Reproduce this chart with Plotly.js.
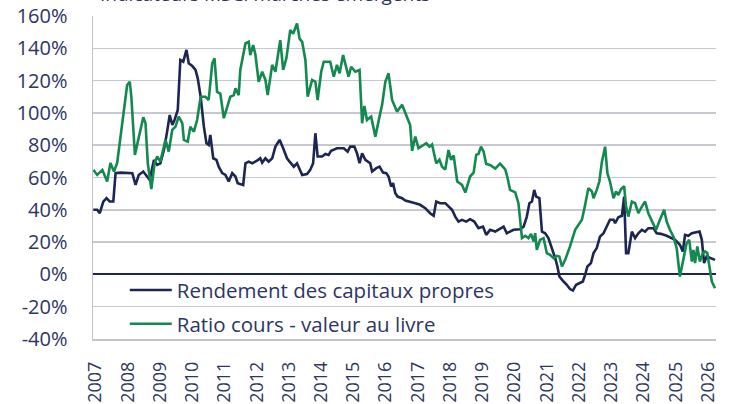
<!DOCTYPE html>
<html>
<head>
<meta charset="utf-8">
<script src="https://cdn.plot.ly/plotly-3.0.1.min.js"></script>
<style>html,body{margin:0;padding:0;background:#fff;}#chart{width:730px;height:404px;}</style>
</head>
<body>
<div id="chart"></div>
<script>
// Decimal-year positions and values (%)
const roeDates = [2006.93,2007.05,2007.13,2007.24,2007.34,2007.44,2007.55,2007.62,2007.77,2007.98,2008.14,2008.24,2008.34,2008.48,2008.60,2008.68,2008.81,2008.91,2009.01,2009.12,2009.22,2009.30,2009.38,2009.45,2009.55,2009.63,2009.72,2009.82,2009.89,2010.00,2010.10,2010.17,2010.26,2010.36,2010.44,2010.51,2010.56,2010.65,2010.75,2010.82,2010.93,2011.03,2011.13,2011.24,2011.34,2011.41,2011.58,2011.65,2011.75,2011.86,2012.01,2012.11,2012.17,2012.27,2012.37,2012.48,2012.58,2012.71,2012.82,2012.94,2013.02,2013.15,2013.25,2013.41,2013.56,2013.66,2013.75,2013.82,2013.89,2014.03,2014.13,2014.23,2014.31,2014.49,2014.70,2014.82,2014.90,2015.03,2015.11,2015.19,2015.27,2015.37,2015.52,2015.58,2015.71,2015.81,2015.92,2016.02,2016.09,2016.17,2016.23,2016.30,2016.37,2016.51,2016.61,2016.76,2016.92,2017.07,2017.23,2017.38,2017.49,2017.57,2017.69,2017.85,2017.95,2018.06,2018.16,2018.26,2018.37,2018.50,2018.62,2018.75,2018.88,2019.02,2019.12,2019.24,2019.40,2019.55,2019.66,2019.76,2019.86,2019.97,2020.17,2020.28,2020.38,2020.46,2020.54,2020.61,2020.67,2020.77,2020.85,2020.95,2021.05,2021.16,2021.26,2021.33,2021.39,2021.52,2021.62,2021.72,2021.81,2021.91,2022.01,2022.12,2022.19,2022.26,2022.37,2022.45,2022.55,2022.65,2022.76,2022.86,2022.96,2023.07,2023.12,2023.22,2023.33,2023.40,2023.46,2023.53,2023.64,2023.74,2023.84,2023.95,2024.05,2024.15,2024.31,2024.41,2024.54,2024.72,2024.88,2024.98,2025.13,2025.22,2025.29,2025.39,2025.50,2025.65,2025.74,2025.81,2025.88,2025.96,2026.06,2026.22];
const roeValues = [40,40,37.9,45.1,47.2,45.1,45.1,62.7,63,63,62.7,55.4,61.6,63.7,60.6,58.5,70.9,67.8,68.8,77.1,88.4,98.7,92.5,95.6,101.8,132.8,131.7,139,130.7,129,126.6,121.4,110,91.5,81.2,80.2,86.4,71.9,70.9,66.7,62.7,61.6,57.5,62.7,60.6,56.5,55.4,68.8,69.8,68.8,70.5,71.9,69.2,71.9,69.8,71.9,79.1,83.3,78.1,71.9,69.8,66.7,68.8,61.6,62.2,64.7,68.8,87.4,73,73,74.6,74,76.6,78.1,78.1,76,79.1,79.1,75,68.8,75,70.9,68.8,63.7,65.8,66.7,63,62.7,60.6,54.4,56.5,50.3,48.2,47.2,45.7,45.1,44.1,43.1,41,37.9,36.3,45.1,44.1,44.1,42,40,35.8,32.7,33.8,32.7,34.2,32.7,28.6,29.6,24.5,27.6,26.5,28,29.6,25.5,26.5,27.6,28,29.6,35.8,44.1,45.1,52.3,48.2,47.2,26.5,25.5,22.5,16.3,10.1,4.9,-1.3,-4.4,-6.4,-9.1,-10,-6.4,-5.4,-4.4,-0.2,4.9,7,13.2,16.3,23.4,25.5,29.6,33.8,33.8,31.7,35.4,36.3,48.2,13.2,13.2,26.5,22.5,25.5,27.6,26.5,28.6,28.6,25.5,25.1,23.9,22.5,21.4,18.3,14.2,24.5,23.9,25.5,25.9,26.5,21.4,7,11.1,10.1,9];

const pbDates = [2006.93,2007.05,2007.21,2007.36,2007.46,2007.57,2007.67,2007.83,2007.98,2008.06,2008.11,2008.22,2008.34,2008.48,2008.55,2008.62,2008.73,2008.83,2008.91,2009.01,2009.17,2009.27,2009.38,2009.48,2009.58,2009.69,2009.74,2009.86,2009.94,2010.05,2010.15,2010.26,2010.41,2010.51,2010.62,2010.69,2010.77,2010.87,2010.98,2011.08,2011.18,2011.29,2011.34,2011.44,2011.49,2011.65,2011.75,2011.80,2011.89,2011.96,2012.06,2012.17,2012.27,2012.34,2012.48,2012.58,2012.73,2012.82,2012.92,2013.04,2013.13,2013.25,2013.33,2013.41,2013.48,2013.51,2013.58,2013.72,2013.82,2013.89,2014.00,2014.08,2014.28,2014.39,2014.49,2014.57,2014.68,2014.85,2014.93,2015.06,2015.19,2015.27,2015.34,2015.42,2015.55,2015.68,2015.81,2015.89,2015.99,2016.09,2016.20,2016.35,2016.51,2016.66,2016.76,2016.82,2016.92,2017.02,2017.16,2017.26,2017.36,2017.44,2017.57,2017.67,2017.75,2017.85,2017.95,2018.03,2018.11,2018.22,2018.37,2018.47,2018.62,2018.73,2018.81,2018.88,2018.96,2019.04,2019.12,2019.24,2019.40,2019.55,2019.71,2019.78,2019.86,2020.02,2020.12,2020.17,2020.23,2020.33,2020.43,2020.51,2020.59,2020.64,2020.69,2020.79,2020.90,2021.00,2021.10,2021.21,2021.31,2021.39,2021.47,2021.57,2021.72,2021.88,2021.95,2022.09,2022.19,2022.29,2022.40,2022.45,2022.55,2022.63,2022.71,2022.81,2022.88,2022.96,2023.07,2023.15,2023.22,2023.30,2023.40,2023.46,2023.53,2023.64,2023.74,2023.84,2023.95,2024.05,2024.15,2024.26,2024.39,2024.51,2024.64,2024.72,2024.82,2024.93,2025.03,2025.13,2025.24,2025.34,2025.42,2025.50,2025.55,2025.60,2025.67,2025.75,2025.84,2025.91,2025.98,2026.04,2026.12,2026.22];
const pbValues = [64.7,61.6,64.7,57.5,69,63.7,69,95.6,117.3,119.3,110,74,85.3,97.3,93.6,68.8,52.8,68.8,73,69.8,83.3,76,89.5,91.5,97.7,93.6,83.3,82.2,91.5,88.4,95.6,110,110,108,130.7,133.8,113,112,96.7,103.9,110,111,115.2,111,126.6,143,144,135.8,142,136,119.3,125.5,120.4,111,129.7,125.5,145,126.6,133.8,151.3,149,155.4,146,144,136.9,132.8,110,120.4,119.3,108,125.5,131.7,131.7,122.4,129.7,124.5,135.8,122.4,128.6,125.5,126.6,93.6,104.3,95.6,97.7,85.3,97.7,105,119.3,124.5,108,100.8,105,97.7,92.5,76.5,85.3,78.1,80.2,81.2,79.1,80.5,68.8,71,66.7,65,77,70.9,73.7,57.5,55.4,50.7,60.6,63,74,74.6,79.1,76,68.4,67.8,65.5,68.6,65,60,52.3,50.8,44.1,33.8,22.5,23.9,22.5,25.1,20.4,25.5,15.2,21.4,22.5,13.2,12.1,10.1,11.5,11.1,4.9,9,17.3,27.6,29.6,33.8,43.1,53.4,51.3,47.2,52.3,57.5,69.8,79.1,62.7,57.5,47.2,51.3,49.2,52.7,54.6,42,35.8,45.1,44.1,37.9,42,45.1,37.9,32.7,27.6,33.8,40,32.7,27.6,23.4,16.3,-1.3,10.1,19.4,21.4,8,15.2,7,17.3,8,13.2,14.2,13.2,5.9,-4.4,-8.5];

const yearTicks = [2007,2008,2009,2010,2011,2012,2013,2014,2015,2016,2017,2018,2019,2020,2021,2022,2023,2024,2025,2026];
const yTicks = [-40,-20,0,20,40,60,80,100,120,140,160];

const seriesNames = ["Rendement des capitaux propres", "Ratio cours - valeur au livre"];
const navy = "#1d2552";
const green = "#13894f";
const textColor = "#2d3563";
const font = "Open Sans, Lato, sans-serif";

const traces = [
  {x: roeDates, y: roeValues, type: "scatter", mode: "lines", name: seriesNames[0],
   line: {color: navy, width: 2.6}, legendgroup: "a"},
  {x: pbDates, y: pbValues, type: "scatter", mode: "lines", name: seriesNames[1],
   line: {color: green, width: 2.6}, legendgroup: "b"}
];

const layout = {
  width: 730, height: 404,
  margin: {l: 93, r: 14, t: 16, b: 65},
  paper_bgcolor: "#fff", plot_bgcolor: "#fff",
  font: {family: font, color: textColor, size: 18},
  title: {text: "Indicateurs MSCI marchés émergents", x: 100/730, xanchor: "left",
          xref: "container", yref: "container", y: 0.998, yanchor: "bottom",
          font: {family: font, size: 19, color: textColor}},
  showlegend: true,
  legend: {x: 0.051, y: 0.213, xanchor: "left", yanchor: "top", bgcolor: "rgba(255,255,255,0)",
           font: {family: font, size: 20.5, color: textColor}, traceorder: "grouped",
           tracegroupgap: 4, itemwidth: 42},
  xaxis: {range: [2006.92, 2026.25], tickmode: "array", tickvals: yearTicks,
          ticktext: yearTicks.map(String), tickangle: -90, showgrid: false, zeroline: false,
          showline: true, linecolor: "#c3c3cc", linewidth: 1.5, ticks: "outside", ticklen: 14,
          tickcolor: "rgba(0,0,0,0)", tickfont: {family: font, size: 18, color: textColor}},
  yaxis: {range: [-40, 160], tickmode: "array", tickvals: yTicks,
          ticktext: yTicks.map(v => v + "%"), showgrid: true, gridcolor: "#c8c8d2", gridwidth: 1.5,
          zeroline: true, zerolinecolor: navy, zerolinewidth: 2,
          showline: true, linecolor: "#c3c3cc", linewidth: 1.5, ticks: "outside", ticklen: 20,
          tickcolor: "rgba(0,0,0,0)", tickfont: {family: font, size: 20, color: textColor}}
};

Plotly.newPlot("chart", traces, layout, {displayModeBar: false, staticPlot: true});
</script>
</body>
</html>
